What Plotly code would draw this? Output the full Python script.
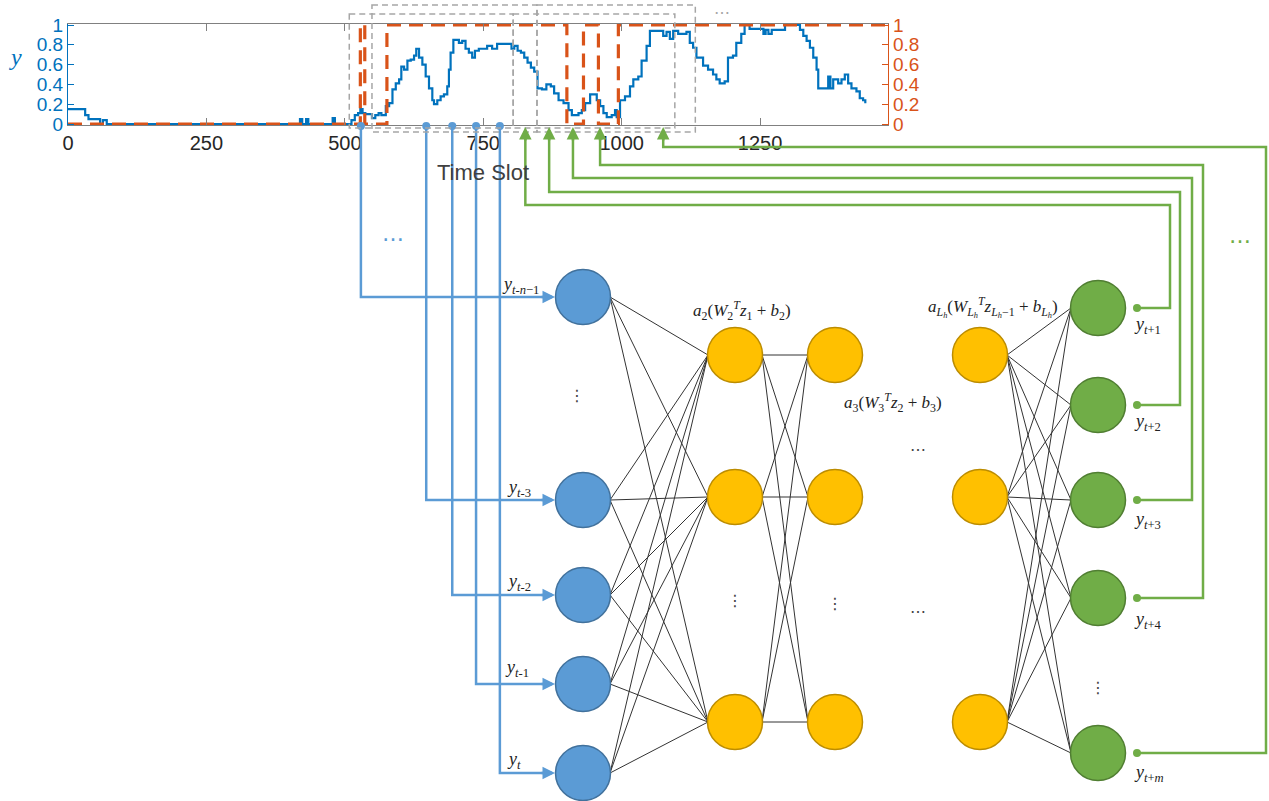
import plotly.graph_objects as go

W, H = 1269, 801

# ---------------- data ----------------
time_ticks = [0, 250, 500, 750, 1000, 1250]
y_ticks = [0, 0.2, 0.4, 0.6, 0.8, 1]
y_tick_text = ["0", "0.2", "0.4", "0.6", "0.8", "1"]

blue_t = [0, 31, 37, 58, 63, 70, 419, 423, 430, 434, 478, 482, 512, 518, 524, 528,
          532, 537, 549, 555, 561, 566, 574, 580, 586, 592, 598, 602, 607, 613, 619,
          625, 629, 634, 640, 646, 652, 658, 661, 667, 673, 679, 685, 688, 691, 696,
          706, 712, 718, 724, 730, 735, 742, 757, 766, 775, 801, 806, 812, 818, 824,
          830, 836, 842, 848, 856, 864, 872, 878, 886, 895, 904, 910, 922, 928, 934,
          943, 955, 961, 967, 973, 982, 988, 991, 997, 1006, 1015, 1021, 1030, 1036,
          1045, 1051, 1069, 1075, 1081, 1087, 1093, 1102, 1117, 1123, 1129, 1135,
          1147, 1156, 1165, 1171, 1177, 1186, 1192, 1201, 1207, 1216, 1222, 1231,
          1256, 1260, 1265, 1271, 1295, 1322, 1328, 1334, 1340, 1346, 1352, 1355,
          1373, 1377, 1382, 1391, 1397, 1403, 1409, 1415, 1424, 1430, 1436, 1440]
blue_v = [0.15, 0.09, 0.05, 0.0, 0.04, 0.0, 0.05, 0.0, 0.05, 0.0, 0.06, 0.0, 0.04, 0.09, 0.11, 0.15,
          0.11, 0.10, 0.06, 0.09, 0.11, 0.09, 0.18, 0.21, 0.35, 0.41, 0.45, 0.58, 0.55, 0.64, 0.65,
          0.69, 0.76, 0.67, 0.60, 0.48, 0.36, 0.24, 0.20, 0.24, 0.28, 0.30, 0.38, 0.55, 0.72, 0.85,
          0.82, 0.84, 0.76, 0.72, 0.67, 0.74, 0.76, 0.79, 0.76, 0.81, 0.76, 0.79, 0.74, 0.72, 0.67,
          0.62, 0.57, 0.53, 0.36, 0.35, 0.40, 0.38, 0.31, 0.24, 0.21, 0.14, 0.09, 0.11, 0.14, 0.21,
          0.30, 0.24, 0.18, 0.11, 0.07, 0.09, 0.14, 0.07, 0.24, 0.28, 0.38, 0.45, 0.48, 0.64,
          0.79, 0.94, 0.94, 0.89, 0.93, 0.86, 0.94, 0.91, 0.93, 0.82, 0.77, 0.67,
          0.59, 0.55, 0.50, 0.45, 0.41, 0.43, 0.67, 0.69, 0.82, 0.91, 1.0, 0.96,
          0.91, 0.95, 0.91, 0.95, 1.0, 0.95, 0.89, 0.84, 0.77, 0.67, 0.55, 0.36,
          0.48, 0.36, 0.45, 0.41, 0.45, 0.50, 0.41, 0.36, 0.33, 0.26, 0.24, 0.21]

state_t = [0, 528, 536, 576, 901, 931, 958, 994, 1481]
state_v = [0, 1, 0, 1, 0, 1, 0, 1, 1]

input_slots = [529, 647, 694, 737, 780]     # time slots fed to the input nodes
output_slots = [826, 869, 912, 961, 1075]   # time slots predicted by output nodes
window_start = [508, 549, 804, 847]
window_end = [804, 847, 1096, 1133]

input_labels = ["<i>y</i><sub><i>t-n</i>−1</sub>", "<i>y</i><sub><i>t</i>-3</sub>",
                "<i>y</i><sub><i>t</i>-2</sub>", "<i>y</i><sub><i>t</i>-1</sub>",
                "<i>y</i><sub><i>t</i></sub>"]
output_labels = ["<i>y</i><sub><i>t</i>+1</sub>", "<i>y</i><sub><i>t</i>+2</sub>",
                 "<i>y</i><sub><i>t</i>+3</sub>", "<i>y</i><sub><i>t</i>+4</sub>",
                 "<i>y</i><sub><i>t</i>+<i>m</i></sub>"]

# ---------------- layout constants ----------------
X_MAX = 1481
CH_L, CH_R, CH_T, CH_B = 68, 888, 25, 124
PAD = 0.012
BLUE, ORANGE = "#0072BD", "#D95319"
NBLUE, NBLUE_E = "#5B9BD5", "#41719C"
YEL, YEL_E = "#FFC000", "#BC8C00"
GRN, GRN_E = "#70AD47", "#507E32"
CONN_B, CONN_G = "#5B9BD5", "#70AD47"

R = 27
input_x, input_y = 583, [297, 500, 595, 684, 773]
hid_x = [735, 835, 980]
hid_y = [355, 497, 722]
out_x, out_y = 1098, [308, 405, 500, 598, 753]
green_col = [1170, 1180, 1192, 1203, 1266]
green_row = [205, 192, 178, 165, 147]


def px(t):
    return CH_L + t / X_MAX * (CH_R - CH_L)


fig = go.Figure()

# ---------------- top time-series chart ----------------
fig.add_trace(go.Scatter(x=blue_t, y=blue_v, mode="lines", line=dict(color=BLUE, width=2.2, shape="hv"),
                         xaxis="x", yaxis="y", showlegend=False, hoverinfo="skip"))
fig.add_trace(go.Scatter(x=state_t, y=state_v, mode="lines",
                         line=dict(color=ORANGE, width=3.2, shape="hv", dash="14px,8px"),
                         xaxis="x", yaxis="y2", showlegend=False, hoverinfo="skip"))

# ---------------- diagram (pixel overlay) ----------------
ov = dict(xaxis="x2", yaxis="y3", showlegend=False, hoverinfo="skip")

# network edges
ex, ey = [], []
def connect(x1, ys1, x2, ys2):
    for a in ys1:
        for b in ys2:
            ex.extend([x1 + R, x2 - R, None])
            ey.extend([a, b, None])
connect(input_x, input_y, hid_x[0], hid_y)
connect(hid_x[0], hid_y, hid_x[1], hid_y)
connect(hid_x[2], hid_y, out_x, out_y)
fig.add_trace(go.Scatter(x=ex, y=ey, mode="lines", line=dict(color="#333333", width=1), **ov))

# blue connectors (time slot -> input node)
bx, by = [], []
for t, yy in zip(input_slots, input_y):
    bx.extend([px(t), px(t), input_x - R - 4, None])
    by.extend([126, yy, yy, None])
fig.add_trace(go.Scatter(x=bx, y=by, mode="lines", line=dict(color=CONN_B, width=2.5), **ov))
fig.add_trace(go.Scatter(x=[px(t) for t in input_slots], y=[126] * 5, mode="markers",
                         marker=dict(color=CONN_B, size=8), **ov))

# green connectors (output node -> time slot)
gx, gy = [], []
for t, yy, c, r in zip(output_slots, out_y, green_col, green_row):
    gx.extend([out_x + 39, c, c, px(t), px(t), None])
    gy.extend([yy, yy, r, r, 134, None])
fig.add_trace(go.Scatter(x=gx, y=gy, mode="lines", line=dict(color=CONN_G, width=2.5), **ov))
fig.add_trace(go.Scatter(x=[out_x + 39] * 5, y=out_y, mode="markers",
                         marker=dict(color=CONN_G, size=8), **ov))

# nodes
fig.add_trace(go.Scatter(x=[input_x] * 5, y=input_y, mode="markers",
                         marker=dict(size=2 * R + 1, color=NBLUE, line=dict(color=NBLUE_E, width=1.5)), **ov))
for hx in hid_x:
    fig.add_trace(go.Scatter(x=[hx] * 3, y=hid_y, mode="markers",
                             marker=dict(size=2 * R + 1, color=YEL, line=dict(color=YEL_E, width=1.5)), **ov))
fig.add_trace(go.Scatter(x=[out_x] * 5, y=out_y, mode="markers",
                         marker=dict(size=2 * R + 1, color=GRN, line=dict(color=GRN_E, width=1.5)), **ov))

# ---------------- shapes: sliding windows ----------------
shapes = []
for i, (s, e) in enumerate(zip(window_start, window_end)):
    top, bot = (14, 128) if i % 2 == 0 else (5, 132)
    shapes.append(dict(type="rect", xref="x2", yref="y3", x0=px(s), x1=px(e), y0=top, y1=bot,
                       line=dict(color="#A6A6A6", width=1.5, dash="6px,4px"), layer="above"))

# ---------------- annotations ----------------
ann = []
for yy in input_y:
    ann.append(dict(xref="x2", yref="y3", axref="x2", ayref="y3", x=input_x - R - 1, y=yy,
                    ax=input_x - R - 16, ay=yy, showarrow=True, arrowhead=2, arrowsize=1,
                    arrowwidth=2.5, arrowcolor=CONN_B, text=""))
for t in output_slots:
    ann.append(dict(xref="x2", yref="y3", axref="x2", ayref="y3", x=px(t), y=127,
                    ax=px(t), ay=142, showarrow=True, arrowhead=2, arrowsize=1,
                    arrowwidth=2.5, arrowcolor=CONN_G, text=""))

serif = "Liberation Serif"
label_pos_in = [(500, 285), (505, 488), (505, 582), (503, 668), (505, 760)]
for (lx, ly), txt in zip(label_pos_in, input_labels):
    ann.append(dict(xref="x2", yref="y3", x=lx, y=ly, text=txt, showarrow=False, xanchor="left",
                    yanchor="middle", font=dict(family=serif, size=18, color="#222222")))
label_pos_out = [(1132, 325), (1132, 422), (1132, 520), (1132, 620), (1132, 773)]
for (lx, ly), txt in zip(label_pos_out, output_labels):
    ann.append(dict(xref="x2", yref="y3", x=lx, y=ly, text=txt, showarrow=False, xanchor="left",
                    yanchor="middle", font=dict(family=serif, size=18, color="#222222")))

math = [
    (742, 310, "<i>a</i><sub>2</sub>(<i>W</i><sub>2</sub><sup><i>T</i></sup><i>z</i><sub>1</sub> + <i>b</i><sub>2</sub>)"),
    (893, 402, "<i>a</i><sub>3</sub>(<i>W</i><sub>3</sub><sup><i>T</i></sup><i>z</i><sub>2</sub> + <i>b</i><sub>3</sub>)"),
    (993, 307, "<i>a</i><sub><i>L<sub>h</sub></i></sub>(<i>W</i><sub><i>L<sub>h</sub></i></sub><sup><i>T</i></sup><i>z</i><sub><i>L<sub>h</sub></i>−1</sub> + <i>b</i><sub><i>L<sub>h</sub></i></sub>)"),
]
for mx, my, txt in math:
    ann.append(dict(xref="x2", yref="y3", x=mx, y=my, text=txt, showarrow=False,
                    font=dict(family=serif, size=17, color="#222222")))

dots = [(577, 395, "⋮", "#444444", 16), (735, 600, "⋮", "#444444", 16), (835, 603, "⋮", "#444444", 16),
        (1098, 687, "⋮", "#444444", 16), (918, 445, "…", "#444444", 16), (918, 607, "…", "#444444", 16),
        (393, 233, "…", CONN_B, 22), (1240, 235, "…", CONN_G, 22), (722, 8, "…", "#A6A6A6", 16)]
for dx, dy, ch, col, sz in dots:
    ann.append(dict(xref="x2", yref="y3", x=dx, y=dy, text=ch, showarrow=False,
                    font=dict(family="DejaVu Sans", size=sz, color=col)))

ann.append(dict(xref="x2", yref="y3", x=483, y=172, text="Time Slot", showarrow=False,
                font=dict(family="Liberation Sans", size=22, color="#404040")))
ann.append(dict(xref="x2", yref="y3", x=15, y=57, text="<i>y</i>", showarrow=False,
                font=dict(family=serif, size=24, color=BLUE)))

# ---------------- layout ----------------
y_dom = [1 - (CH_B + PAD * 99) / H, 1 - (CH_T - PAD * 99) / H]
tick_font = dict(family="Liberation Sans", size=19)
fig.update_layout(
    template="none",
    width=W, height=H, margin=dict(l=0, r=0, t=0, b=0, pad=0, autoexpand=False),
    paper_bgcolor="white", plot_bgcolor="rgba(0,0,0,0)",
    xaxis=dict(domain=[CH_L / W, CH_R / W], range=[0, X_MAX], tickvals=time_ticks, automargin=False,
               ticks="inside", ticklen=7, tickcolor="#808080", showline=True, linecolor="#808080",
               linewidth=1.2, mirror="ticks", showgrid=False, zeroline=False, anchor="y",
               tickfont=dict(family="Liberation Sans", size=20, color="#262626"), fixedrange=True),
    yaxis=dict(domain=y_dom, range=[-PAD, 1 + PAD], tickvals=y_ticks, ticktext=y_tick_text,
               automargin=False,
               ticks="inside", ticklen=6, tickcolor=BLUE, showline=True, linecolor=BLUE, linewidth=1.2,
               showgrid=False, zeroline=False, anchor="x", tickfont=dict(tick_font, color=BLUE),
               fixedrange=True),
    yaxis2=dict(domain=y_dom, range=[-PAD, 1 + PAD], tickvals=y_ticks, ticktext=y_tick_text,
                automargin=False,
                overlaying="y", side="right", anchor="x", ticks="inside", ticklen=6, tickcolor=ORANGE,
                showline=True, linecolor=ORANGE, linewidth=1.2, showgrid=False, zeroline=False,
                tickfont=dict(tick_font, color=ORANGE), fixedrange=True),
    xaxis2=dict(domain=[0, 1], range=[0, W], visible=False, anchor="y3", fixedrange=True, automargin=False),
    yaxis3=dict(domain=[0, 1], range=[H, 0], visible=False, anchor="x2", fixedrange=True, automargin=False),
    shapes=shapes, annotations=ann,
)

fig.write_html("out.html", config={"displayModeBar": False},
               post_script="document.body.style.margin='0';document.body.style.overflow='hidden';")
